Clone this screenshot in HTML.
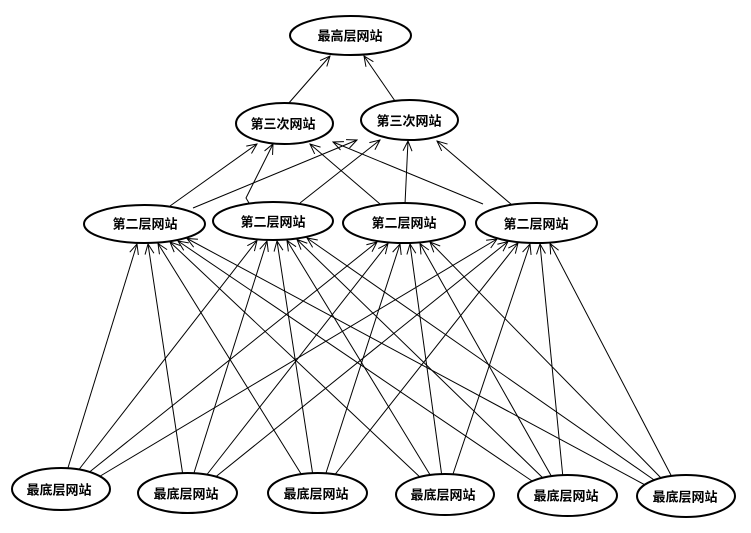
<!DOCTYPE html>
<html>
<head>
<meta charset="utf-8">
<style>
html,body{margin:0;padding:0;background:#fff;}
svg{display:block;}
text{font-family:"Liberation Sans","Noto Sans CJK SC","WenQuanYi Zen Hei",sans-serif;font-weight:bold;font-size:13px;fill:#000;}
</style>
</head>
<body>
<svg width="751" height="533" viewBox="0 0 751 533" xmlns="http://www.w3.org/2000/svg">
<defs>
<marker id="a" markerUnits="userSpaceOnUse" markerWidth="12" markerHeight="12" refX="11" refY="5" orient="auto">
<path d="M1,0.5 L11,5 L1,9.5" fill="none" stroke="#000" stroke-width="1"/>
</marker>
</defs>
<rect width="751" height="533" fill="#fff"/>
<g stroke="#000" stroke-width="1" fill="none" marker-end="url(#a)">
<!-- bottom -> second level -->
<!-- B1 -->
<line x1="67" y1="471" x2="137" y2="244"/>
<line x1="77" y1="472" x2="257" y2="240.5"/>
<line x1="87" y1="474" x2="377" y2="242"/>
<line x1="97" y1="478" x2="497" y2="239"/>
<!-- B2 -->
<line x1="183" y1="476" x2="148" y2="244"/>
<line x1="193" y1="476" x2="267" y2="241"/>
<line x1="205" y1="477" x2="388" y2="243.5"/>
<line x1="213" y1="479" x2="508" y2="241.5"/>
<!-- B3 -->
<line x1="303" y1="477" x2="158" y2="243.5"/>
<line x1="313" y1="476" x2="277" y2="241"/>
<line x1="325" y1="476" x2="400" y2="244"/>
<line x1="333" y1="477" x2="518" y2="243"/>
<!-- B4 -->
<line x1="422" y1="479" x2="170" y2="242"/>
<line x1="432" y1="478" x2="287" y2="240.5"/>
<line x1="442" y1="477" x2="410" y2="244"/>
<line x1="452" y1="477" x2="530" y2="244"/>
<!-- B5 -->
<line x1="535" y1="483" x2="178" y2="241"/>
<line x1="545" y1="480" x2="297" y2="239.5"/>
<line x1="553" y1="479" x2="420" y2="243.5"/>
<line x1="563" y1="478" x2="540" y2="244"/>
<!-- B6 -->
<line x1="647" y1="486" x2="187" y2="238.5"/>
<line x1="657" y1="482" x2="307" y2="238"/>
<line x1="663" y1="480" x2="430" y2="242"/>
<line x1="673" y1="479" x2="550" y2="243.5"/>
<!-- second -> third -->
<line x1="170" y1="206" x2="257" y2="144"/>
<line x1="193" y1="208" x2="357" y2="140"/>
<path d="M249,203 L246,198 L273,144"/>
<line x1="300" y1="203" x2="380" y2="140"/>
<line x1="380" y1="204" x2="310" y2="144"/>
<line x1="405" y1="204" x2="408" y2="141"/>
<line x1="483" y1="204" x2="333" y2="142"/>
<line x1="512" y1="205" x2="437" y2="141"/>
<!-- third -> top -->
<line x1="288" y1="104" x2="330" y2="56"/>
<line x1="395" y1="101" x2="364" y2="56"/>
</g>
<g stroke="#000" stroke-width="2" fill="#fff">
<ellipse cx="350.5" cy="35.5" rx="60.5" ry="19.5"/>
<ellipse cx="284.5" cy="123.5" rx="48.5" ry="20.5"/>
<ellipse cx="409.5" cy="120" rx="48.5" ry="20"/>
<ellipse cx="61" cy="489" rx="49" ry="21"/>
<ellipse cx="187.5" cy="493" rx="49.5" ry="20"/>
<ellipse cx="317.5" cy="493" rx="49.5" ry="20"/>
<ellipse cx="445" cy="494.5" rx="49" ry="20.5"/>
<ellipse cx="567.5" cy="495.5" rx="49.5" ry="20.5"/>
<ellipse cx="686" cy="496" rx="49" ry="21"/>
</g>
<g stroke="#000" stroke-width="2" fill="none">
<ellipse cx="144.5" cy="224" rx="60.5" ry="19"/>
<ellipse cx="273" cy="221" rx="60" ry="19"/>
<ellipse cx="404" cy="223" rx="61" ry="20"/>
<ellipse cx="536.5" cy="223" rx="60.5" ry="20"/>
</g>
<g text-anchor="middle" dominant-baseline="central">
<text x="350" y="36">最高层网站</text>
<text x="283" y="124">第三次网站</text>
<text x="409" y="121">第三次网站</text>
<text x="145" y="224">第二层网站</text>
<text x="273" y="222">第二层网站</text>
<text x="404" y="223">第二层网站</text>
<text x="536" y="224">第二层网站</text>
<text x="59" y="490">最底层网站</text>
<text x="186" y="494">最底层网站</text>
<text x="316" y="494">最底层网站</text>
<text x="443" y="495">最底层网站</text>
<text x="566" y="496">最底层网站</text>
<text x="685" y="497">最底层网站</text>
</g>
</svg>
</body>
</html>
